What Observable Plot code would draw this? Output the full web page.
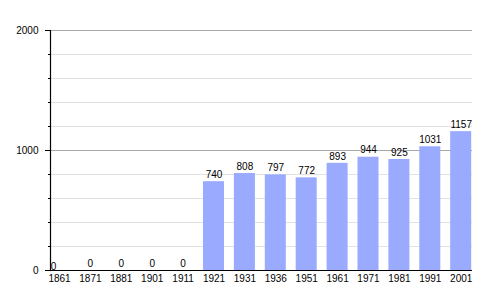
<!DOCTYPE html>
<html>
<head>
<meta charset="utf-8">
<script src="https://cdn.jsdelivr.net/npm/d3@7"></script>
<script src="https://cdn.jsdelivr.net/npm/@observablehq/plot@0.6"></script>
<style>
  html, body { margin: 0; padding: 0; background: #fff; }
  svg { font-family: "Liberation Sans", Arial, Helvetica, sans-serif; }
</style>
</head>
<body>
<div id="chart"></div>
<script>
const years = ["1861","1871","1881","1901","1911","1921","1931","1936","1951","1961","1971","1981","1991","2001"];
const population = [0, 0, 0, 0, 0, 740, 808, 797, 772, 893, 944, 925, 1031, 1157];
const majorTicks = [0, 1000, 2000];
const minorTicks = [200, 400, 600, 800, 1200, 1400, 1600, 1800];

const data = years.map((year, i) => ({year, value: population[i]}));
const first = data.slice(0, 1);
const rest = data.slice(1);

const chart = Plot.plot({
  width: 500,
  height: 300,
  marginTop: 30,
  marginBottom: 30,
  marginLeft: 50,
  marginRight: 28,
  style: {fontFamily: "Liberation Sans, Arial, sans-serif", fontSize: "10px", background: "#fff"},
  x: {type: "band", domain: years, range: [48.5, 471.2], paddingInner: 0.32, paddingOuter: 0, round: false},
  y: {domain: [0, 2000]},
  marks: [
    Plot.gridY(minorTicks, {stroke: "#e2e2e2", strokeOpacity: 1}),
    Plot.gridY([1000, 2000], {stroke: "#a8a8a8", strokeOpacity: 1}),
    Plot.barY(data, {x: "year", y: "value", fill: "#99aaff"}),
    Plot.axisY(majorTicks, {tickSize: 5, tickPadding: 7, label: null, tickFormat: d => String(d), fontSize: 10, stroke: "#000", fill: "#000"}),
    Plot.axisY(minorTicks, {tickSize: 2, text: null, label: null, stroke: "#000"}),
    Plot.frame({anchor: "left", stroke: "#000", strokeWidth: 1.2}),
    Plot.ruleY([0], {stroke: "#000", strokeWidth: 1.2}),
    Plot.axisX({tickSize: 0, tickPadding: 4, label: null, fontSize: 10, fill: "#000"}),
    Plot.text(rest, {x: "year", y: "value", text: d => String(d.value), dy: -7, fontSize: 10, fill: "#000"}),
    Plot.text(first, {x: "year", y: "value", text: d => String(d.value), dx: -6, dy: -4, fontSize: 10, fill: "#000"})
  ]
});
document.getElementById("chart").appendChild(chart);
</script>
</body>
</html>
